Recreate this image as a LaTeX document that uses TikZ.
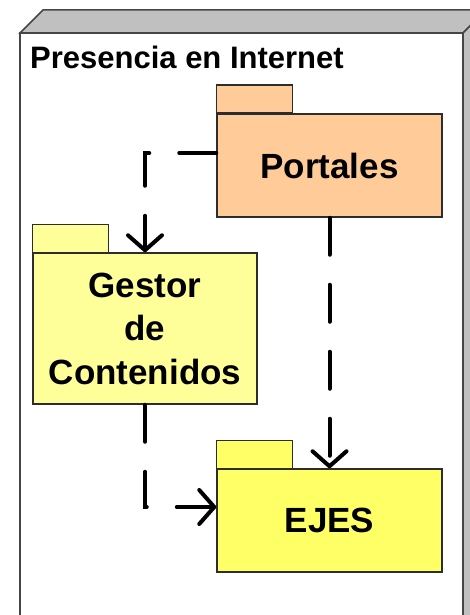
\documentclass[tikz,border=0pt]{standalone}
\usepackage{fontspec}
\setmainfont{Liberation Sans}
\usepackage{tikz}
\usetikzlibrary{arrows.meta, positioning, calc}
\definecolor{nodegray}{RGB}{192,192,192}
\definecolor{nodeedge}{RGB}{70,70,70}
\definecolor{pkgedge}{RGB}{45,45,45}
\definecolor{pkgorange}{RGB}{255,204,153}
\definecolor{pkgpale}{RGB}{255,255,153}
\definecolor{pkgyellow}{RGB}{255,255,102}
\tikzset{
  pkg/.style={rectangle, draw=pkgedge, line width=1.5pt,
    minimum width=225pt, minimum height=103pt, inner sep=0pt,
    align=center, font=\fontsize{35}{43.5}\selectfont\bfseries},
  tab/.style={draw=pkgedge, line width=1.5pt},
  dep/.style={line width=4pt, line cap=round, dash pattern=on 37pt off 30pt,
    -{Straight Barb[length=15pt, width=34pt, line cap=round, line join=round]}},
  title/.style={anchor=base west, inner sep=0pt,
    font=\fontsize{31}{37}\selectfont\bfseries}
}
\newcommand{\pkgtab}[2]{\draw[tab, fill=#2] (#1.north west) rectangle ++(76,-28);}

\begin{document}
\begin{tikzpicture}[x=1pt, y=-1pt]
  \useasboundingbox (0,0) rectangle (469,615);
  % Node box (3D)
  \draw[draw=nodeedge, fill=nodegray, line width=1.5pt] (20,33) -- (43,10) -- (486,10) -- (463,33) -- cycle;
  \draw[draw=nodeedge, fill=nodegray, line width=1.5pt] (463,33) -- (486,10) -- (486,640) -- (463,640) -- cycle;
  \draw[draw=nodeedge, fill=white, line width=2pt] (20,33) rectangle (463,640);
  \node[title] (titulo) at (30,69) {Presencia en Internet};
  % Packages
  \node[pkg, fill=pkgorange] (portales) at (329.5,165.5) {Portales};
  \node[pkg, fill=pkgpale, minimum width=224pt, minimum height=151pt] (gestor) at (145,328.5) {Gestor\\de\\Contenidos};
  \node[pkg, fill=pkgyellow] (ejes) at (329.5,520.5) {EJES};
  \pkgtab{portales}{pkgorange}
  \pkgtab{gestor}{pkgpale}
  \pkgtab{ejes}{pkgyellow}
  % Dependencies
  \draw[dep] ([yshift=12.5pt]portales.west) -| (gestor.north);
  \draw[dep] (portales.south) -- (ejes.north);
  \draw[dep] (gestor.south) |- ([yshift=13.5pt]ejes.west);
\end{tikzpicture}
\end{document}
